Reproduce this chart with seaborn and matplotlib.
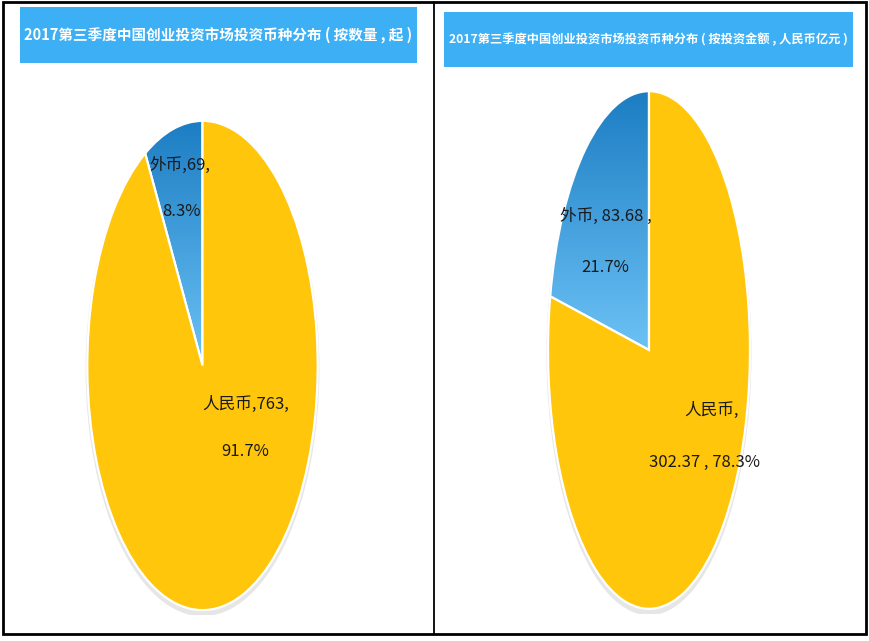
"""
2017 Q3 China VC investment: currency split, by deal count and by amount.
"""

import numpy as np
import matplotlib
matplotlib.use('Agg')
import matplotlib.pyplot as plt
import seaborn as sns
from matplotlib.colors import LinearSegmentedColormap
from matplotlib.patches import Rectangle, Ellipse
from matplotlib.lines import Line2D

# ==============================================================================
# DATA
# ==============================================================================

currencies = ['外币', '人民币']
deal_counts = [69, 763]              # 起
deal_amounts = [83.68, 302.37]       # 人民币亿元

title_count = '2017第三季度中国创业投资市场投资币种分布 ( 按数量 , 起 )'
title_amount = '2017第三季度中国创业投资市场投资币种分布 ( 按投资金额 , 人民币亿元 )'

# ==============================================================================
# STYLE
# ==============================================================================

sns.set_theme(style='white')
plt.rcParams['font.family'] = ['Noto Sans CJK SC', 'DejaVu Sans']

W, H = 870, 641
YELLOW = '#FFC60B'
BLUE_DARK = '#1C7DC3'
BLUE_LIGHT = '#6CC2F5'
TITLE_BG = '#3DB0F5'


def px(x, y):
    """Pixel position (from top-left) to figure fraction."""
    return x / W, 1 - y / H


def ax_rect(x0, y0, x1, y1):
    return [x0 / W, 1 - y1 / H, (x1 - x0) / W, (y1 - y0) / H]


def draw_pie(ax, values):
    """Stretched pie with a gradient on the small (blue) slice."""
    shadow = Ellipse((0.0, -0.015), 2.03, 2.02, facecolor='#d6d6d6',
                     edgecolor='none', alpha=0.6, zorder=0)
    ax.add_patch(shadow)
    wedges, _ = ax.pie(values, colors=sns.color_palette([BLUE_LIGHT, YELLOW]),
                       startangle=90, counterclock=True,
                       wedgeprops=dict(edgecolor='white', linewidth=1.6))
    for w in wedges:
        w.set_zorder(2)

    blue = wedges[0]
    blue.set_facecolor('none')
    cmap = LinearSegmentedColormap.from_list('blue_grad', [BLUE_DARK, BLUE_LIGHT])
    grad = np.linspace(0, 1, 256).reshape(-1, 1)
    im = ax.imshow(grad, extent=(-1, 1, 0, 1), origin='upper', cmap=cmap,
                   aspect='auto', zorder=1)
    im.set_clip_path(blue)

    ax.set_aspect('auto')
    ax.set_xlim(-1.02, 1.02)
    ax.set_ylim(-1.02, 1.02)
    ax.axis('off')
    return wedges


def title_box(fig, x0, y0, x1, y1, text, size):
    fig.patches.append(Rectangle((x0 / W, 1 - y1 / H), (x1 - x0) / W, (y1 - y0) / H,
                                 transform=fig.transFigure, facecolor=TITLE_BG,
                                 edgecolor='none', zorder=1))
    cx, cy = px((x0 + x1) / 2, (y0 + y1) / 2)
    fig.text(cx, cy, text, ha='center', va='center', color='white',
             fontsize=size, fontweight='bold', zorder=2)


# ==============================================================================
# FIGURE
# ==============================================================================

fig = plt.figure(figsize=(8.7, 6.41), dpi=100)
fig.patch.set_facecolor('white')

# frame and divider
fig.patches.append(Rectangle((3 / W, 1 - 634 / H), 863 / W, 632 / H,
                             transform=fig.transFigure, facecolor='none',
                             edgecolor='black', linewidth=2))
fig.lines.append(Line2D([434 / W, 434 / W], [1 - 634 / H, 1 - 2 / H],
                        transform=fig.transFigure, color='black', linewidth=1.3))

title_box(fig, 20, 7, 417, 63, title_count, 10.5)
title_box(fig, 444, 12, 853, 67, title_amount, 8.8)

# left pie: by count
ax1 = fig.add_axes(ax_rect(85, 116, 320, 615))
draw_pie(ax1, deal_counts)
cnt_pct = [v / sum(deal_counts) * 100 for v in deal_counts]

lbl = dict(ha='center', va='center', fontsize=12, color='#1a1a1a')
fig.text(*px(180, 165), f'{currencies[0]},{deal_counts[0]},', **lbl)
fig.text(*px(182, 211), f'{cnt_pct[0]:.1f}%', **lbl)
fig.text(*px(246, 404), f'{currencies[1]},{deal_counts[1]},', **lbl)
fig.text(*px(245, 452), f'{cnt_pct[1]:.1f}%', **lbl)

# right pie: by amount
ax2 = fig.add_axes(ax_rect(546, 86, 752, 614))
draw_pie(ax2, deal_amounts)
amt_pct = [v / sum(deal_amounts) * 100 for v in deal_amounts]

fig.text(*px(606, 216), f'{currencies[0]}, {deal_amounts[0]:.2f} ,', **lbl)
fig.text(*px(605, 267), f'{amt_pct[0]:.1f}%', **lbl)
fig.text(*px(712, 410), f'{currencies[1]},', **lbl)
fig.text(*px(705, 462), f'{deal_amounts[1]:.2f} , {amt_pct[1]:.1f}%', **lbl)

fig.savefig('out.png', dpi=100)
